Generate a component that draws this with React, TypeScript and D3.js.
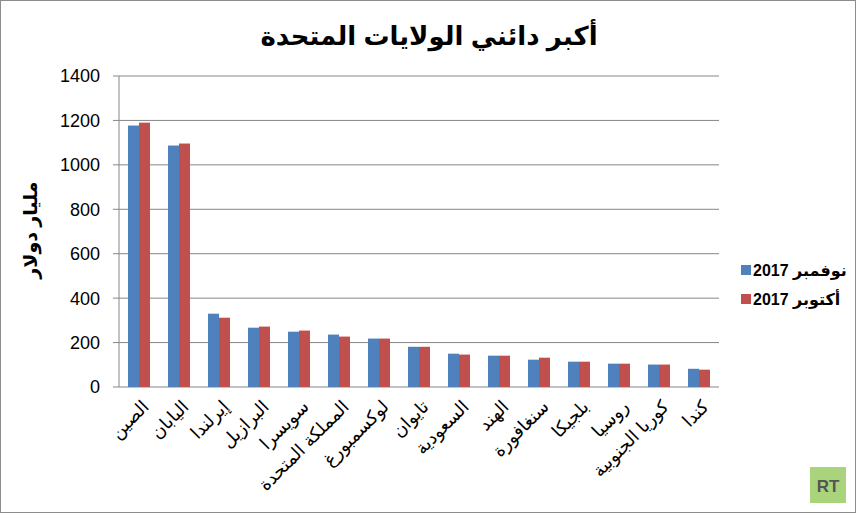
import React from 'react';
import * as d3 from 'd3';

const categories = [
  'الصين', 'اليابان', 'إيرلندا', 'البرازيل', 'سويسرا', 'المملكة المتحدة', 'لوكسمبورغ',
  'تايوان', 'السعودية', 'الهند', 'سنغافورة', 'بلجيكا', 'روسيا', 'كوريا الجنوبية', 'كندا',
];
const seriesNames = ['نوفمبر 2017', 'أكتوبر 2017'];
const november = [1177, 1087, 330, 267, 249, 236, 218, 181, 150, 141, 123, 114, 105, 101, 82];
const october = [1190, 1096, 312, 272, 254, 227, 218, 181, 146, 141, 132, 114, 105, 101, 78];
const yTicks = [0, 200, 400, 600, 800, 1000, 1200, 1400];

const colors = ['#4f81bd', '#c0504d'];
const width = 856;
const height = 513;
const margin = { top: 76, right: 137, bottom: 126, left: 119 };
const font = '"Liberation Sans", Arial, "DejaVu Sans", sans-serif';

const App: React.FC = () => {
  const values = [november, october];

  const x = d3.scaleBand<string>()
    .domain(categories)
    .range([margin.left, width - margin.right])
    .paddingInner(0.45)
    .paddingOuter(0.225);

  const xInner = d3.scaleBand<string>()
    .domain(seriesNames)
    .range([0, x.bandwidth()]);

  const y = d3.scaleLinear()
    .domain([0, 1400])
    .range([height - margin.bottom, margin.top]);

  const grid = '#868686';

  return (
    <svg width={width} height={height} style={{ position: 'absolute', left: 0, top: 0, display: 'block' }}
      fontFamily={font}>
      <rect x={0.5} y={0.5} width={width - 1} height={height - 1} fill="#fff" stroke="#8c8c8c" />

      {/* title */}
      <text x={429} y={45} textAnchor="middle" fontSize={26} fontWeight="bold">
        أكبر دائني الولايات المتحدة
      </text>

      {/* grid + y ticks */}
      {yTicks.map(t => (
        <g key={t}>
          <line x1={margin.left - 6} x2={width - margin.right} y1={y(t)} y2={y(t)} stroke={grid} strokeWidth={1} />
          <text x={100} y={y(t)} dy="0.36em" textAnchor="end" fontSize={18}>{t}</text>
        </g>
      ))}
      <line x1={margin.left} x2={margin.left} y1={margin.top} y2={y(0)} stroke={grid} strokeWidth={1} />

      {/* y label */}
      <text transform={`translate(37, 230) rotate(-90)`} textAnchor="middle" fontSize={19} fontWeight="bold">
        مليار دولار
      </text>

      {/* bars */}
      {categories.map((c, i) => (
        <g key={c}>
          {seriesNames.map((s, j) => (
            <rect key={s}
              x={(x(c) ?? 0) + (xInner(s) ?? 0)}
              y={y(values[j][i])}
              width={xInner.bandwidth()}
              height={y(0) - y(values[j][i])}
              fill={colors[j]} />
          ))}
        </g>
      ))}

      {/* category labels */}
      {categories.map(c => {
        const cx = (x(c) ?? 0) + x.bandwidth() / 2;
        return (
          <text key={c} transform={`translate(${cx + 2}, ${y(0) + 12}) rotate(-45)`}
            textAnchor="end" dy="0.7em" fontSize={18}>{c}</text>
        );
      })}

      {/* legend */}
      {seriesNames.map((s, j) => (
        <g key={s} transform={`translate(741, ${265 + j * 29})`}>
          <rect width={10} height={10} fill={colors[j]} />
          <text x={12} y={5} dy="0.36em" fontSize={16} fontWeight="bold">{s}</text>
        </g>
      ))}

      {/* logo */}
      <rect x={810} y={467} width={36} height={36} fill="#a9d47b" />
      <text x={828} y={486} dy="0.36em" textAnchor="middle" fontSize={17} fontWeight="bold" fill="#555"
        fontFamily='"Liberation Sans", Arial, sans-serif'>RT</text>
    </svg>
  );
};

export default App;
